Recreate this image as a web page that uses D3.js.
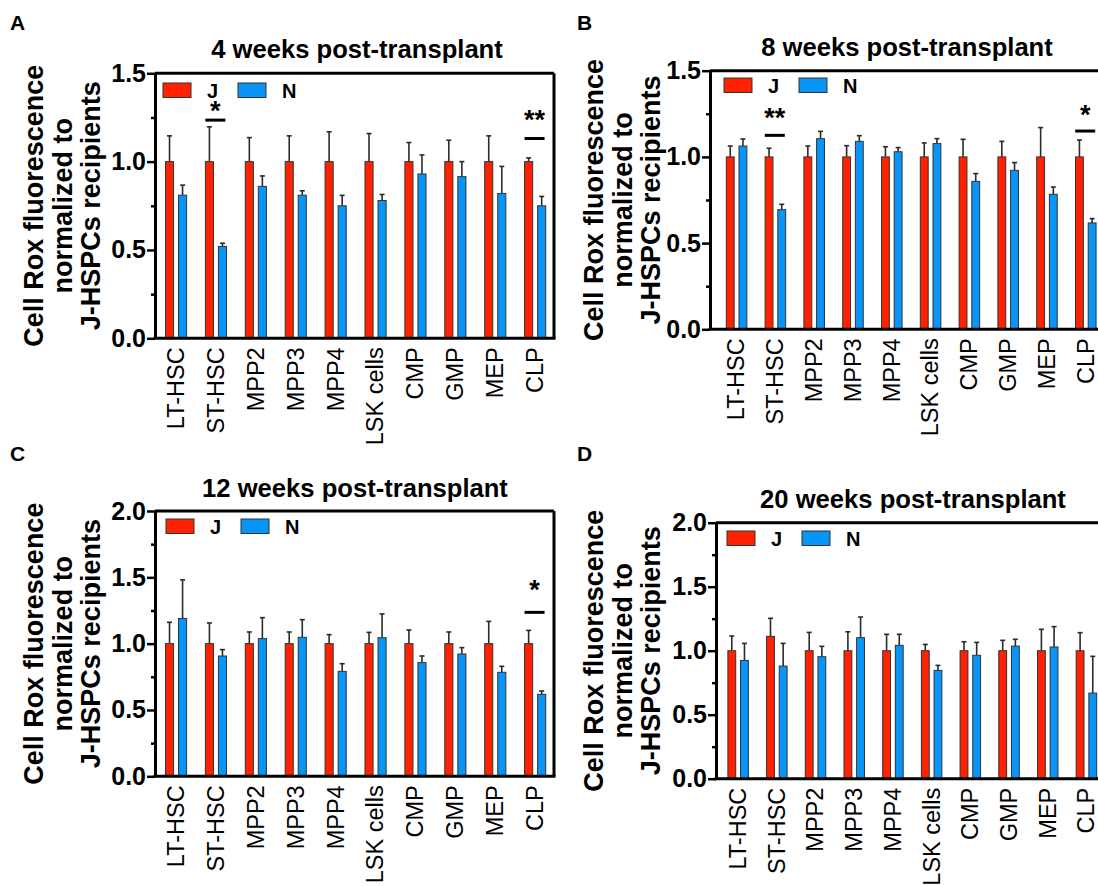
<!DOCTYPE html>
<html>
<head>
<meta charset="utf-8">
<script src="https://cdn.jsdelivr.net/npm/d3@7"></script>
<style>
  body { margin: 0; background: #fff; }
  svg text { font-family: "Liberation Sans", Arial, Helvetica, sans-serif; fill: #000; }
</style>
</head>
<body>
<svg id="fig" width="1098" height="886"></svg>
<script>
// cell populations on the x axis
const cellTypes = ['LT-HSC', 'ST-HSC', 'MPP2', 'MPP3', 'MPP4', 'LSK cells', 'CMP', 'GMP', 'MEP', 'CLP'];
const groups = ['J', 'N'];
const colors = { J: '#ff2200', N: '#0795f7' };

// 4 weeks
const wk4J     = [1, 1, 1, 1, 1, 1, 1, 1, 1, 1];
const wk4JErr  = [0.146, 0.197, 0.136, 0.146, 0.169, 0.159, 0.108, 0.121, 0.146, 0.021];
const wk4N     = [0.81, 0.52, 0.86, 0.81, 0.75, 0.78, 0.93, 0.915, 0.82, 0.75];
const wk4NErr  = [0.057, 0.018, 0.059, 0.025, 0.059, 0.034, 0.108, 0.085, 0.153, 0.053];
const wk4Sig   = [['ST-HSC', '*', 1.235, 1.235], ['CLP', '**', 1.131, 1.184]];

// 8 weeks
const wk8J     = [1, 1, 1, 1, 1, 1, 1, 1, 1, 1];
const wk8JErr  = [0.063, 0.05, 0.063, 0.065, 0.059, 0.081, 0.102, 0.09, 0.17, 0.098];
const wk8N     = [1.063, 0.694, 1.106, 1.09, 1.03, 1.077, 0.858, 0.922, 0.783, 0.617];
const wk8NErr  = [0.041, 0.031, 0.042, 0.033, 0.024, 0.029, 0.045, 0.045, 0.042, 0.025];
const wk8Sig   = [['ST-HSC', '**', 1.125, 1.173], ['CLP', '*', 1.15, 1.19]];

// 12 weeks
const wk12J    = [1, 1, 1, 1, 1, 1, 1, 1, 1, 1];
const wk12JErr = [0.161, 0.156, 0.088, 0.088, 0.068, 0.085, 0.103, 0.088, 0.168, 0.10];
const wk12N    = [1.19, 0.907, 1.038, 1.048, 0.791, 1.045, 0.857, 0.922, 0.784, 0.618];
const wk12NErr = [0.291, 0.048, 0.158, 0.133, 0.058, 0.179, 0.05, 0.048, 0.045, 0.025];
const wk12Sig  = [['CLP', '*', 1.236, 1.335]];

// 20 weeks
const wk20J    = [1, 1.112, 1, 1, 1, 1, 1, 1, 1, 1];
const wk20JErr = [0.115, 0.141, 0.143, 0.148, 0.128, 0.049, 0.07, 0.081, 0.167, 0.141];
const wk20N    = [0.924, 0.88, 0.953, 1.102, 1.042, 0.846, 0.964, 1.036, 1.029, 0.669];
const wk20NErr = [0.133, 0.177, 0.081, 0.161, 0.086, 0.039, 0.101, 0.053, 0.159, 0.287];
const wk20Sig  = [];

const ticks15 = [0, 0.5, 1.0, 1.5];
const ticks20 = [0, 0.5, 1.0, 1.5, 2.0];
const yLabelLines = ['Cell Rox fluorescence', 'normalized to', 'J-HSPCs recipients'];

// panel layout
const panels = [
  { letter: 'A', title: '4 weeks post-transplant', J: wk4J, JErr: wk4JErr, N: wk4N, NErr: wk4NErr, sig: wk4Sig,
    ticks: ticks15, lx: 10, ly: 30, tx: 357, ty: 58, xL: 155, xR: 554, bandL: 155.5, bandR: 554.5,
    yB: 338.3, yT: 73.3, labX: 43, legX: 163, legY: 83 },
  { letter: 'B', title: '8 weeks post-transplant', J: wk8J, JErr: wk8JErr, N: wk8N, NErr: wk8NErr, sig: wk8Sig,
    ticks: ticks15, lx: 577, ly: 30, tx: 907, ty: 56, xL: 710, xR: 1111, bandL: 716.6, bandR: 1104.6,
    yB: 329.3, yT: 70.7, labX: 603, legX: 724, legY: 78 },
  { letter: 'C', title: '12 weeks post-transplant', J: wk12J, JErr: wk12JErr, N: wk12N, NErr: wk12NErr, sig: wk12Sig,
    ticks: ticks20, lx: 10, ly: 461, tx: 355, ty: 497, xL: 155, xR: 554, bandL: 155.5, bandR: 554.5,
    yB: 776.3, yT: 511, labX: 43, legX: 166, legY: 519 },
  { letter: 'D', title: '20 weeks post-transplant', J: wk20J, JErr: wk20JErr, N: wk20N, NErr: wk20NErr, sig: wk20Sig,
    ticks: ticks20, lx: 577, ly: 461, tx: 913, ty: 508, xL: 716, xR: 1107, bandL: 718.2, bandR: 1105.2,
    yB: 778.7, yT: 522.7, labX: 603, legX: 727, legY: 531 }
];

const svg = d3.select('#fig');

panels.forEach(p => {
  const g = svg.append('g');
  const yMax = p.ticks[p.ticks.length - 1];

  const x = d3.scaleBand().domain(cellTypes).range([p.bandL, p.bandR]).padding(0);
  const bw = x.bandwidth();
  const xIn = d3.scaleBand().domain(groups).range([bw * 0.25, bw * 0.78]).paddingInner(0.38);
  const y = d3.scaleLinear().domain([0, yMax]).range([p.yB, p.yT]);

  // panel letter and title
  g.append('text').attr('x', p.lx).attr('y', p.ly)
    .attr('font-size', 21).attr('font-weight', 'bold').text(p.letter);
  g.append('text').attr('x', p.tx).attr('y', p.ty)
    .attr('text-anchor', 'middle').attr('font-size', 25.6).attr('font-weight', 'bold').text(p.title);

  // y label
  const yc = (p.yB + p.yT) / 2;
  g.append('text')
    .attr('transform', `translate(${p.labX},${yc}) rotate(-90)`)
    .attr('text-anchor', 'middle').attr('font-size', 27).attr('font-weight', 'bold')
    .selectAll('tspan').data(yLabelLines).enter().append('tspan')
    .attr('x', 0).attr('y', (d, i) => i * 28.5).text(d => d);

  // bars
  const rows = cellTypes.map((c, i) => ({
    cat: c,
    vals: [
      { grp: 'J', v: p.J[i], e: p.JErr[i] },
      { grp: 'N', v: p.N[i], e: p.NErr[i] }
    ]
  }));

  const cell = g.selectAll('.cell').data(rows).enter().append('g')
    .attr('class', 'cell')
    .attr('transform', d => `translate(${x(d.cat)},0)`);

  // error bars (upper only)
  const eb = cell.selectAll('.err').data(d => d.vals).enter().append('g').attr('class', 'err');
  eb.append('line')
    .attr('x1', d => xIn(d.grp) + xIn.bandwidth() / 2)
    .attr('x2', d => xIn(d.grp) + xIn.bandwidth() / 2)
    .attr('y1', d => y(d.v)).attr('y2', d => y(d.v + d.e))
    .attr('stroke', '#2a2a2a').attr('stroke-width', 1.6);
  eb.append('line')
    .attr('x1', d => xIn(d.grp) + xIn.bandwidth() / 2 - 2.5)
    .attr('x2', d => xIn(d.grp) + xIn.bandwidth() / 2 + 2.5)
    .attr('y1', d => y(d.v + d.e)).attr('y2', d => y(d.v + d.e))
    .attr('stroke', '#2a2a2a').attr('stroke-width', 1.6);

  cell.selectAll('rect').data(d => d.vals).enter().append('rect')
    .attr('x', d => xIn(d.grp))
    .attr('y', d => y(d.v))
    .attr('width', xIn.bandwidth())
    .attr('height', d => y(0) - y(d.v))
    .attr('fill', d => colors[d.grp])
    .attr('stroke', '#333').attr('stroke-width', 1);

  // significance marks
  p.sig.forEach(s => {
    const cx = x(s[0]) + bw / 2;
    g.append('line').attr('x1', cx - 10).attr('x2', cx + 10)
      .attr('y1', y(s[2])).attr('y2', y(s[2]))
      .attr('stroke', '#000').attr('stroke-width', 3);
    g.append('text').attr('x', cx).attr('y', y(s[3]))
      .attr('text-anchor', 'middle').attr('font-size', 27).attr('font-weight', 'bold')
      .text(s[1]);
  });

  // legend
  groups.forEach((grp, i) => {
    const lx = p.legX + i * 75;
    g.append('rect').attr('x', lx).attr('y', p.legY).attr('width', 28).attr('height', 14.5)
      .attr('fill', colors[grp]).attr('stroke', '#333').attr('stroke-width', 1);
    g.append('text').attr('x', lx + 44).attr('y', p.legY + 14.5)
      .attr('font-size', 20).attr('font-weight', 'bold').text(grp);
  });

  // frame: top and right
  g.append('line').attr('x1', p.xL).attr('x2', p.xR).attr('y1', p.yT).attr('y2', p.yT)
    .attr('stroke', '#000').attr('stroke-width', 3);
  g.append('line').attr('x1', p.xR).attr('x2', p.xR).attr('y1', p.yT).attr('y2', p.yB)
    .attr('stroke', '#000').attr('stroke-width', 3);

  // x axis line and labels
  g.append('line').attr('x1', p.xL - 1.5).attr('x2', p.xR + 1.5).attr('y1', p.yB).attr('y2', p.yB)
    .attr('stroke', '#000').attr('stroke-width', 3);
  g.selectAll('.xlab').data(cellTypes).enter().append('text')
    .attr('class', 'xlab')
    .attr('transform', d => `translate(${x(d) + bw / 2},${p.yB + 9}) rotate(-90)`)
    .attr('text-anchor', 'end').attr('dy', '0.36em')
    .attr('font-size', 23.5).text(d => d);

  // y axis: minor then major ticks
  const minor = d3.range(0, yMax + 0.001, 0.25).filter(v => !p.ticks.includes(v));
  g.append('g').attr('transform', `translate(${p.xL},0)`)
    .call(d3.axisLeft(y).tickValues(minor).tickSize(4).tickSizeOuter(0).tickFormat(''))
    .call(a => a.select('.domain').remove())
    .call(a => a.selectAll('line').attr('stroke-width', 2.5));
  g.append('g').attr('transform', `translate(${p.xL},0)`)
    .call(d3.axisLeft(y).tickValues(p.ticks).tickSize(8).tickSizeOuter(0).tickPadding(1)
      .tickFormat(d3.format('.1f')))
    .call(a => a.select('.domain').attr('stroke-width', 3))
    .call(a => a.selectAll('line').attr('stroke-width', 2.5))
    .call(a => a.selectAll('text').attr('font-size', 25).attr('font-weight', 'bold')
      .attr('font-family', '"Liberation Sans", Arial, sans-serif').attr('fill', '#000'));
});
</script>
</body>
</html>
